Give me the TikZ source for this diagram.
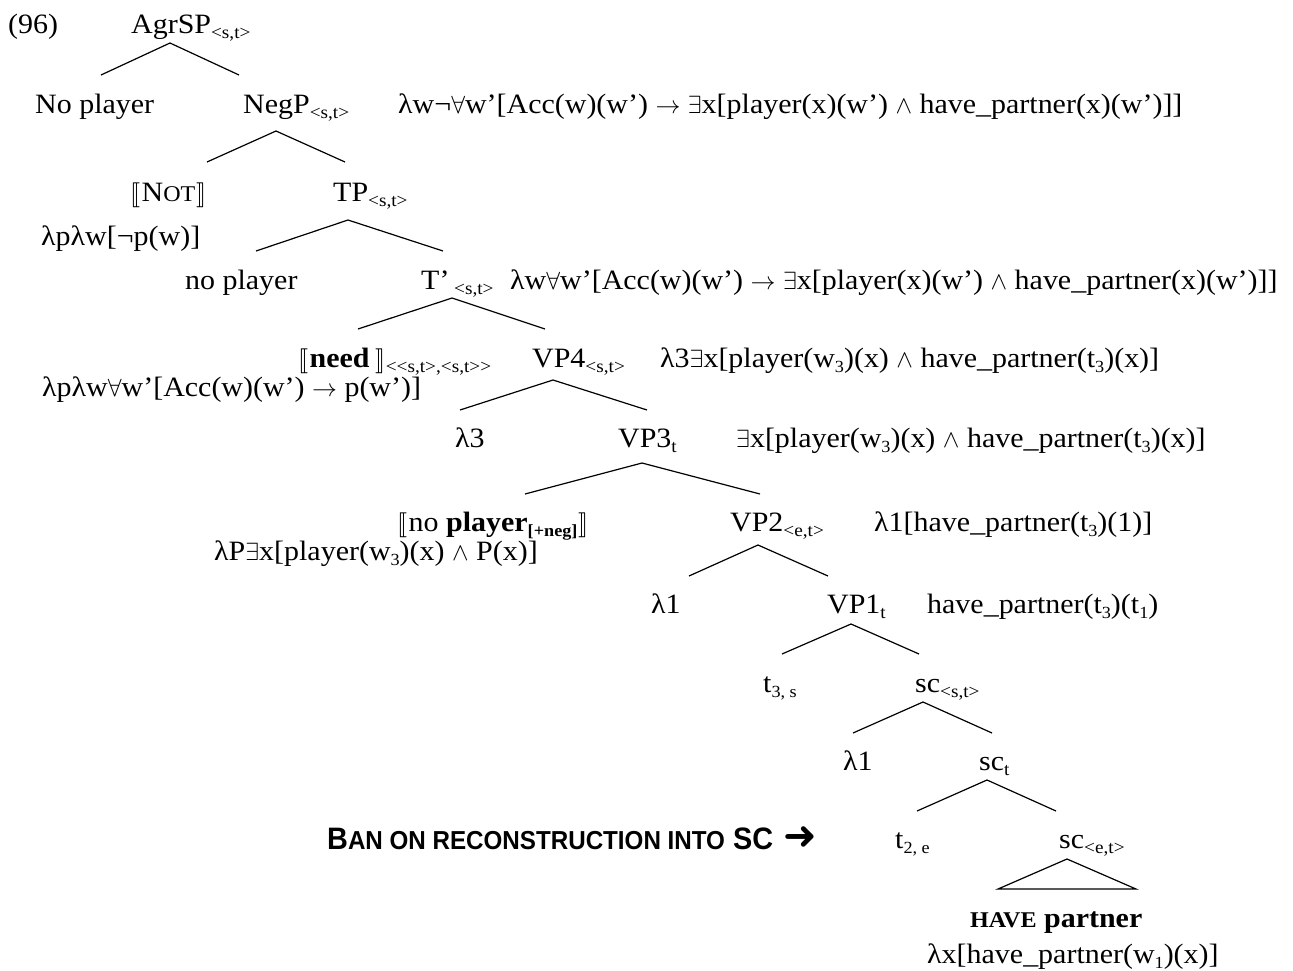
\documentclass[tikz,border=0pt]{standalone}
\usepackage{fontspec}
\usepackage{stmaryrd}
\setmainfont{Liberation Serif}[FakeStretch=1.07]
\newfontfamily\bansans{Liberation Sans}[FakeStretch=0.93]
\newfontfamily\dingsans{DejaVu Sans}

% logical symbols
\newcommand\qall{$\forall$}
\newcommand\qex{$\exists$}
\newcommand\qand{$\wedge$}
\newcommand\qto{$\rightarrow$}
% semantic-value brackets
\newcommand\dbl[1]{$\llbracket$\kern1.5pt#1\kern1.5pt$\rrbracket$}
% type subscripts and index subscripts
\newcommand\tysub[1]{\raisebox{-5pt}{\fontsize{18}{18}\selectfont #1}}
\newcommand\ixsub[1]{\raisebox{-5pt}{\fontsize{17}{17}\selectfont #1}}
\newcommand\bsub[1]{\raisebox{-5pt}{\fontsize{17}{17}\selectfont\bfseries #1}}
% fake small capitals
\newcommand\smcap{\fontsize{22.5}{24}\selectfont}

\begin{document}
\begin{tikzpicture}[x=1pt,y=-1pt,
  lab/.style={anchor=base west, inner sep=0pt, font=\fontsize{28}{32}\selectfont},
  branch/.style={line width=1.2pt}]
\useasboundingbox (0,0) rectangle (1293,970);

% ---- labels ----
\node[lab] (ex) at (8,33) {(96)};
\node[lab] (agrsp) at (131,33) {AgrSP\tysub{<s,t>}};

\node[lab] (np1) at (35,113) {No player};
\node[lab] (negp) at (243,113) {NegP\tysub{<s,t>}};
\node[lab] (negf) at (398,113) {λw¬\qall w’[Acc(w)(w’) \qto\ \qex x[player(x)(w’) \qand\ have\_partner(x)(w’)]]};

\node[lab] (not) at (130,201) {\dbl{N{\smcap OT}}};
\node[lab] (tp) at (333,201) {TP\tysub{<s,t>}};
\node[lab] (notf) at (41,245) {λpλw[¬p(w)]};

\node[lab] (np2) at (185,289) {no player};
\node[lab] (tbar) at (421,289) {T’\,\tysub{<s,t>}};
\node[lab] (tbarf) at (510,289) {λw\qall w’[Acc(w)(w’) \qto\ \qex x[player(x)(w’) \qand\ have\_partner(x)(w’)]]};

\node[lab] (need) at (298,367) {\dbl{\textbf{need}\,}\tysub{<{}<s,t>,<s,t>{}>}};
\node[lab] (needf) at (42,396) {λpλw\qall w’[Acc(w)(w’) \qto\ p(w’)]};
\node[lab] (vp4) at (532,367) {VP4\tysub{<s,t>}};
\node[lab] (vp4f) at (660,367) {λ3\qex x[player(w\ixsub{3})(x) \qand\ have\_partner(t\ixsub{3})(x)]};

\node[lab] (lam3) at (455,447) {λ3};
\node[lab] (vp3) at (618,447) {VP3\tysub{t}};
\node[lab] (vp3f) at (736,447) {\qex x[player(w\ixsub{3})(x) \qand\ have\_partner(t\ixsub{3})(x)]};

\node[lab] (dp) at (397,531) {\dbl{no \textbf{player}\bsub{[+neg]}}};
\node[lab] (dpf) at (214,560) {λP\qex x[player(w\ixsub{3})(x) \qand\ P(x)]};
\node[lab] (vp2) at (730,531) {VP2\tysub{<e,t>}};
\node[lab] (vp2f) at (874,531) {λ1[have\_partner(t\ixsub{3})(1)]};

\node[lab] (lam1a) at (651,613) {λ1};
\node[lab] (vp1) at (827,613) {VP1\tysub{t}};
\node[lab] (vp1f) at (927,613) {have\_partner(t\ixsub{3})(t\ixsub{1})};

\node[lab] (t3) at (763,692) {t\ixsub{3, s}};
\node[lab] (sc1) at (915,692) {sc\tysub{<s,t>}};

\node[lab] (lam1b) at (843,770) {λ1};
\node[lab] (sc2) at (979,770) {sc\tysub{t}};

\node[lab, font=\bansans\bfseries\fontsize{31}{34}\selectfont] (ban) at (327,849)
  {B{\fontsize{26}{34}\selectfont AN ON RECONSTRUCTION INTO} SC\hspace{10pt}{\dingsans\fontsize{40}{40}\selectfont ➜}};
\node[lab] (t2) at (895,848) {t\ixsub{2, e}};
\node[lab] (sc3) at (1059,848) {sc\tysub{<e,t>}};

\node[lab] (have) at (970,927) {\textbf{{\smcap HAVE} partner}};
\node[lab] (havef) at (927,963) {λx[have\_partner(w\ixsub{1})(x)]};

% ---- branch points ----
\coordinate (agr-t) at (170,43);  \coordinate (agr-l) at (101,75);  \coordinate (agr-r) at (239,75);
\coordinate (neg-t) at (276,131); \coordinate (neg-l) at (207,162); \coordinate (neg-r) at (345,162);
\coordinate (tp-t) at (348,220);  \coordinate (tp-l) at (256,251);  \coordinate (tp-r) at (443,251);
\coordinate (tb-t) at (452,298);  \coordinate (tb-l) at (358,329);  \coordinate (tb-r) at (545,329);
\coordinate (v4-t) at (553,380);  \coordinate (v4-l) at (460,410);  \coordinate (v4-r) at (647,410);
\coordinate (v3-t) at (642,463);  \coordinate (v3-l) at (525,494);  \coordinate (v3-r) at (760,494);
\coordinate (v2-t) at (758,545);  \coordinate (v2-l) at (689,576);  \coordinate (v2-r) at (828,576);
\coordinate (v1-t) at (851,624);  \coordinate (v1-l) at (782,654);  \coordinate (v1-r) at (919,654);
\coordinate (s1-t) at (923,702);  \coordinate (s1-l) at (853,733);  \coordinate (s1-r) at (992,733);
\coordinate (s2-t) at (987,780);  \coordinate (s2-l) at (917,811);  \coordinate (s2-r) at (1056,811);
\coordinate (s3-t) at (1067,859); \coordinate (s3-l) at (998,889);  \coordinate (s3-r) at (1136,889);

% ---- branches ----
\foreach \n in {agr,neg,tp,tb,v4,v3,v2,v1,s1,s2}
  \draw[branch] (\n-l) -- (\n-t) -- (\n-r);
\draw[branch] (s3-t) -- (s3-l) -- (s3-r) -- cycle;
\end{tikzpicture}
\end{document}
